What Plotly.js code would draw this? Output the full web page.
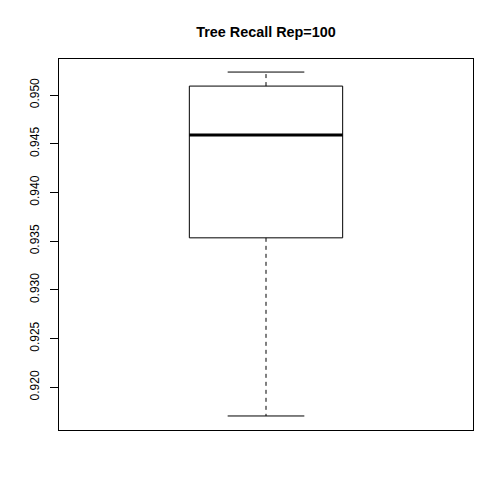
<!DOCTYPE html>
<html><head><meta charset="utf-8">
<script src="https://cdn.plot.ly/plotly-3.0.1.min.js"></script>
<style>body{margin:0;background:#fff}#c{width:504px;height:504px}</style>
</head><body><div id="c"></div>
<script>
// Box statistics
const lowerWhisker = 0.91705;
const q1 = 0.93534;
const median = 0.94589;
const q3 = 0.95092;
const upperWhisker = 0.95236;
const yTickVals = [0.920, 0.925, 0.930, 0.935, 0.940, 0.945, 0.950];
const yTickText = ["0.920", "0.925", "0.930", "0.935", "0.940", "0.945", "0.950"];
const center = 1;
const halfBox = 0.2, halfCap = 0.1;

const line = {color: 'black', width: 1};
const traces = [
  // box
  {x:[center-halfBox, center+halfBox, center+halfBox, center-halfBox, center-halfBox],
   y:[q1, q1, q3, q3, q1], mode:'lines', line: line, hoverinfo:'skip'},
  // median
  {x:[center-halfBox, center+halfBox], y:[median, median], mode:'lines',
   line:{color:'black', width:3}, hoverinfo:'skip'},
  // whiskers (dashed)
  {x:[center, center], y:[q3, upperWhisker], mode:'lines', line:{color:'black', width:1, dash:'4px,4px'}},
  {x:[center, center], y:[q1, lowerWhisker], mode:'lines', line:{color:'black', width:1, dash:'4px,4px'}},
  // caps
  {x:[center-halfCap, center+halfCap], y:[upperWhisker, upperWhisker], mode:'lines', line: line},
  {x:[center-halfCap, center+halfCap], y:[lowerWhisker, lowerWhisker], mode:'lines', line: line}
];

const layout = {
  width: 504, height: 504,
  margin: {l: 59, r: 31, t: 59, b: 74},
  paper_bgcolor: 'white', plot_bgcolor: 'white',
  showlegend: false,
  title: {text: 'Tree Recall Rep=100', x: 0.5, xref: 'paper', y: 1 - 32/504, yanchor: 'middle',
          font: {family: 'Liberation Sans, Arial, sans-serif', size: 14.4, color: 'black', weight: 'bold'}},
  xaxis: {range: [0.46, 1.54], showgrid: false, zeroline: false, showticklabels: false, ticks: '',
          showline: true, mirror: true, linecolor: 'black', linewidth: 1, fixedrange: true},
  yaxis: {range: [0.91561, 0.9537], showgrid: false, zeroline: false,
          tickmode: 'array', tickvals: yTickVals, ticktext: yTickText, tickangle: -90,
          ticks: 'outside', ticklen: 8, tickwidth: 1, tickcolor: 'black', ticklabelstandoff: 6,
          tickfont: {family: 'Liberation Sans, Arial, sans-serif', size: 12, color: 'black'},
          showline: true, mirror: true, linecolor: 'black', linewidth: 1, fixedrange: true}
};
Plotly.newPlot('c', traces, layout, {displayModeBar: false, staticPlot: true});
</script></body></html>
